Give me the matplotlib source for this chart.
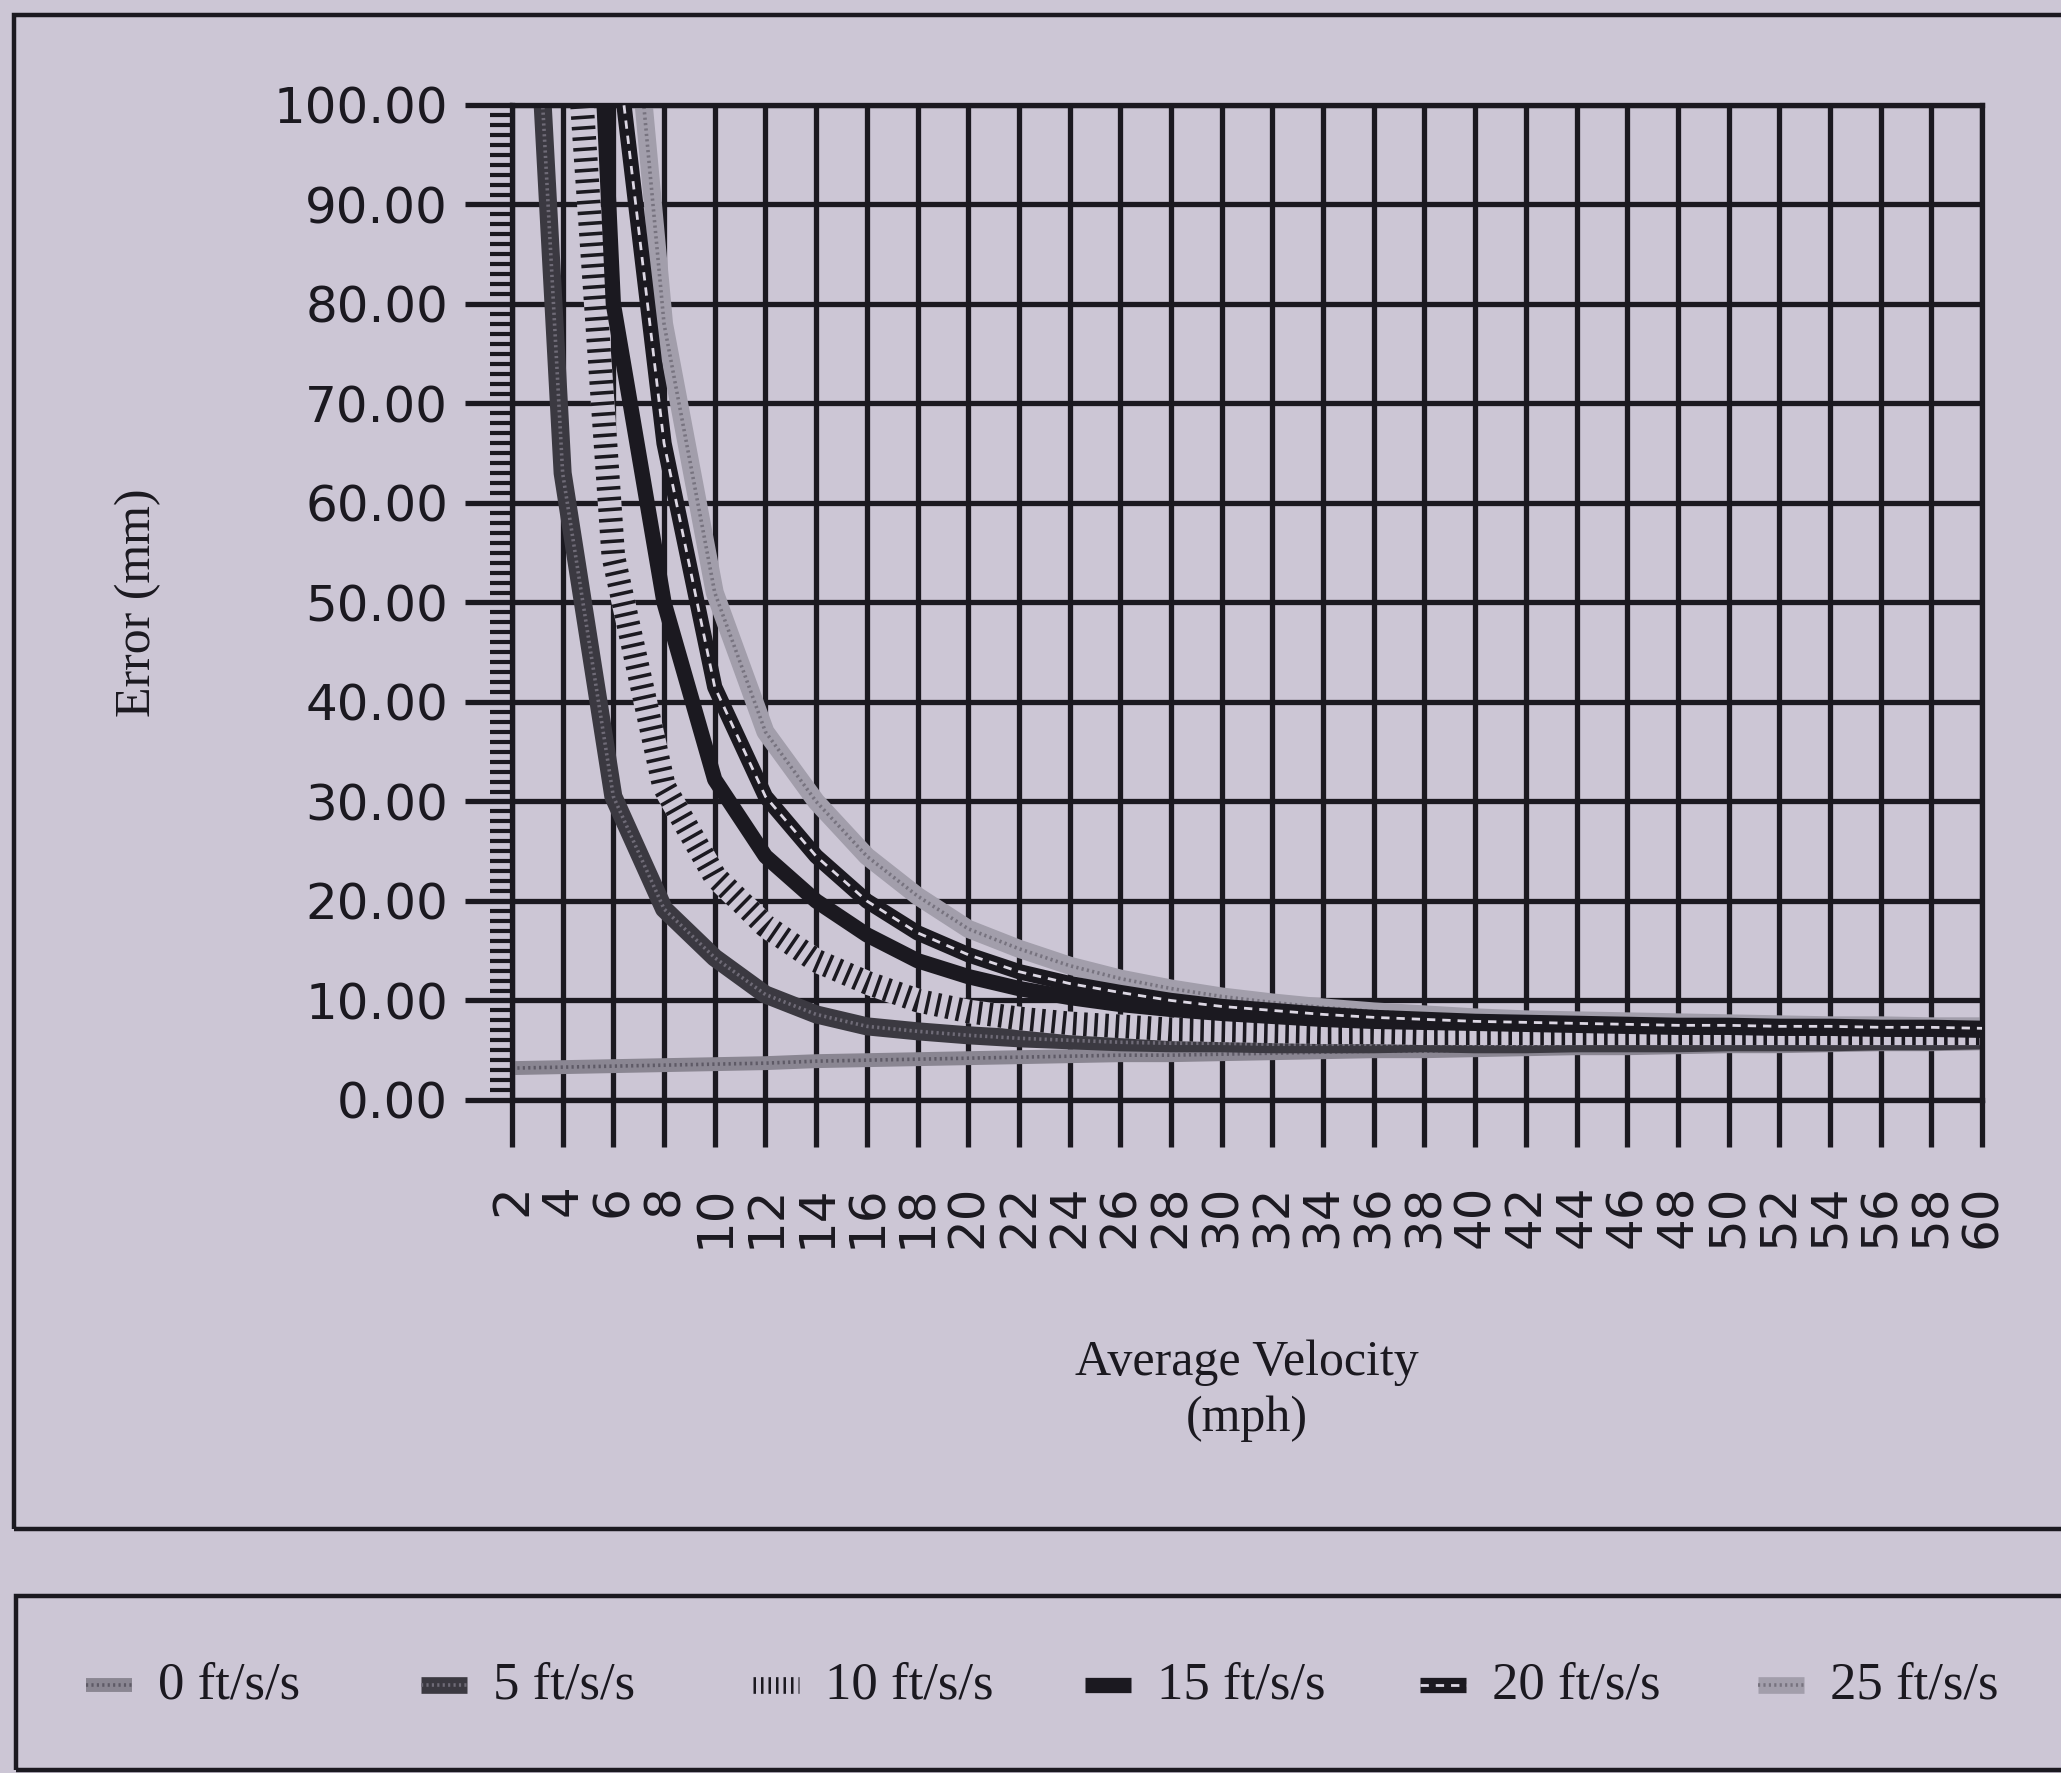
# -*- coding: utf-8 -*-
import matplotlib
matplotlib.use('Agg')
import matplotlib.pyplot as plt
from matplotlib.lines import Line2D
from matplotlib.patches import Rectangle
from matplotlib.ticker import MultipleLocator, FormatStrFormatter

# colours of the scanned page
BG = '#ccc6d5'
INK = '#1b1920'

# average velocity categories (mph)
velocity = [2, 4, 6, 8, 10, 12, 14, 16, 18, 20, 22, 24, 26, 28, 30,
            32, 34, 36, 38, 40, 42, 44, 46, 48, 50, 52, 54, 56, 58, 60]

# error (mm) per acceleration (values above 100 are off the plot)
err_0 = [3.2, 3.3, 3.4, 3.5, 3.6, 3.7, 3.9, 4.0, 4.1, 4.2, 4.3, 4.4, 4.5, 4.5, 4.6,
         4.7, 4.8, 4.9, 4.9, 5.0, 5.1, 5.2, 5.2, 5.3, 5.4, 5.4, 5.5, 5.6, 5.6, 5.7]
err_5 = [157, 63, 30.5, 19.2, 14.3, 10.6, 8.6, 7.4, 6.9, 6.5, 6.2, 6.0, 5.8, 5.7, 5.7,
         5.6, 5.6, 5.6, 5.7, 5.6, 5.6, 5.7, 5.7, 5.7, 5.8, 5.8, 5.8, 5.9, 5.9, 6.0]
err_10 = [475, 128, 54.6, 31.5, 22.5, 17.5, 14.0, 11.8, 10.0, 8.9, 8.2, 7.7, 7.4, 7.1, 7.0,
          6.9, 6.8, 6.8, 6.7, 6.7, 6.7, 6.7, 6.7, 6.7, 6.7, 6.7, 6.7, 6.7, 6.7, 6.7]
err_15 = [715, 190, 80, 50, 32.2, 24.5, 20.0, 16.6, 14.0, 12.4, 11.2, 10.3, 9.6, 9.1, 8.7,
          8.4, 8.1, 7.9, 7.8, 7.7, 7.6, 7.5, 7.4, 7.3, 7.3, 7.2, 7.2, 7.1, 7.1, 7.0]
err_20 = [950, 245, 109, 66, 41.5, 30.5, 24.5, 20.0, 16.8, 14.6, 12.9, 11.7, 10.8, 10.0, 9.4,
          9.0, 8.6, 8.3, 8.1, 7.9, 7.8, 7.7, 7.6, 7.5, 7.5, 7.4, 7.4, 7.3, 7.3, 7.2]
err_25 = [1190, 300, 133, 78, 51, 37, 30, 24.5, 20.5, 17.2, 15.2, 13.5, 12.2, 11.2, 10.4,
          9.8, 9.3, 8.9, 8.6, 8.3, 8.1, 8.0, 7.9, 7.8, 7.7, 7.6, 7.5, 7.5, 7.4, 7.4]

labels = ['0 ft/s/s', '5 ft/s/s', '10 ft/s/s', '15 ft/s/s', '20 ft/s/s', '25 ft/s/s']
series = [err_0, err_5, err_10, err_15, err_20, err_25]

# line "patterns" as stacked layers (halftone, hatch, solid, dashed core)
styles = [
    [dict(color='#8a8692', lw=10), dict(color='#5e5a66', lw=2.6, linestyle=(0, (0.6, 0.9)))],
    [dict(color='#3b3941', lw=13), dict(color='#6f6b77', lw=2.6, linestyle=(0, (0.6, 0.9)))],
    [dict(color=BG, lw=17), dict(color=INK, lw=17, linestyle=(0, (0.15, 0.3)))],
    [dict(color=INK, lw=11)],
    [dict(color=INK, lw=11), dict(color='#dcd7e3', lw=2.0, linestyle=(0, (3, 2.5)))],
    [dict(color='#a29eab', lw=13), dict(color='#77737f', lw=2.6, linestyle=(0, (0.6, 0.9)))],
]
zorders = [2.1, 2.2, 2.3, 2.4, 2.5, 2.0]

fig = plt.figure(figsize=(20.61, 17.73), dpi=100, facecolor=BG)
ax = fig.add_axes([0.2484, 0.3796, 0.7133, 0.5612])
ax.set_facecolor(BG)

for vals, layers, z in zip(series, styles, zorders):
    for k, layer in enumerate(layers):
        ax.plot(velocity, vals, solid_joinstyle='round', solid_capstyle='butt',
                zorder=z + k * 0.01, **layer)

ax.set_xlim(2, 60)
ax.set_ylim(0, 100)
ax.set_xticks(velocity)
ax.set_xticklabels([str(v) for v in velocity], rotation=90)
ax.set_yticks(range(0, 101, 10))
ax.yaxis.set_major_formatter(FormatStrFormatter('%.2f'))
ax.yaxis.set_minor_locator(MultipleLocator(1))

ax.tick_params(axis='both', which='major', direction='out', length=34, width=3.8,
               color=INK, labelsize=36, labelcolor=INK)
ax.tick_params(axis='x', which='major', pad=27)
ax.tick_params(axis='y', which='major', pad=12)
ax.tick_params(axis='y', which='minor', direction='out', length=16, width=3.0, color=INK)

ax.set_axisbelow(True)
ax.grid(True, which='major', color=INK, lw=3.8)
for sp in ax.spines.values():
    sp.set_linewidth(3.8)
    sp.set_color(INK)

# axis titles (serif, as in the scan)
fig.text(0.067, 0.660, 'Error (mm)', rotation=90, ha='center', va='center',
         fontsize=36, family='Liberation Serif', color=INK)
fig.text(0.605, 0.2155, 'Average Velocity\n(mph)', ha='center', va='center',
         fontsize=36, family='Liberation Serif', color=INK, linespacing=1.25)

# frames: chart box and legend box, both running off the right edge
fig.add_artist(Rectangle((0.0068, 0.1376), 1.2, 0.9915 - 0.1376, transform=fig.transFigure,
                         fill=False, lw=3.2, ec=INK, clip_on=False))
fig.add_artist(Rectangle((0.0078, 0.0017), 1.2, 0.0998 - 0.0017, transform=fig.transFigure,
                         fill=False, lw=3.2, ec=INK, clip_on=False))

# legend row
W = 2061.0
text_x = [158, 493, 825, 1157, 1492, 1830]
leg_y = 0.0496
for lab, layers, tx in zip(labels, styles, text_x):
    x1 = (tx - 26) / W
    x0 = (tx - 72) / W
    for layer in layers:
        kw = dict(layer)
        kw['lw'] = min(kw['lw'], 12)
        fig.add_artist(Line2D([x0, x1], [leg_y, leg_y], transform=fig.transFigure,
                              solid_capstyle='butt', **kw))
    fig.text(tx / W, leg_y, lab, ha='left', va='center', fontsize=38,
             family='Liberation Serif', color=INK)

fig.savefig('out.png', dpi=100, facecolor=BG)
